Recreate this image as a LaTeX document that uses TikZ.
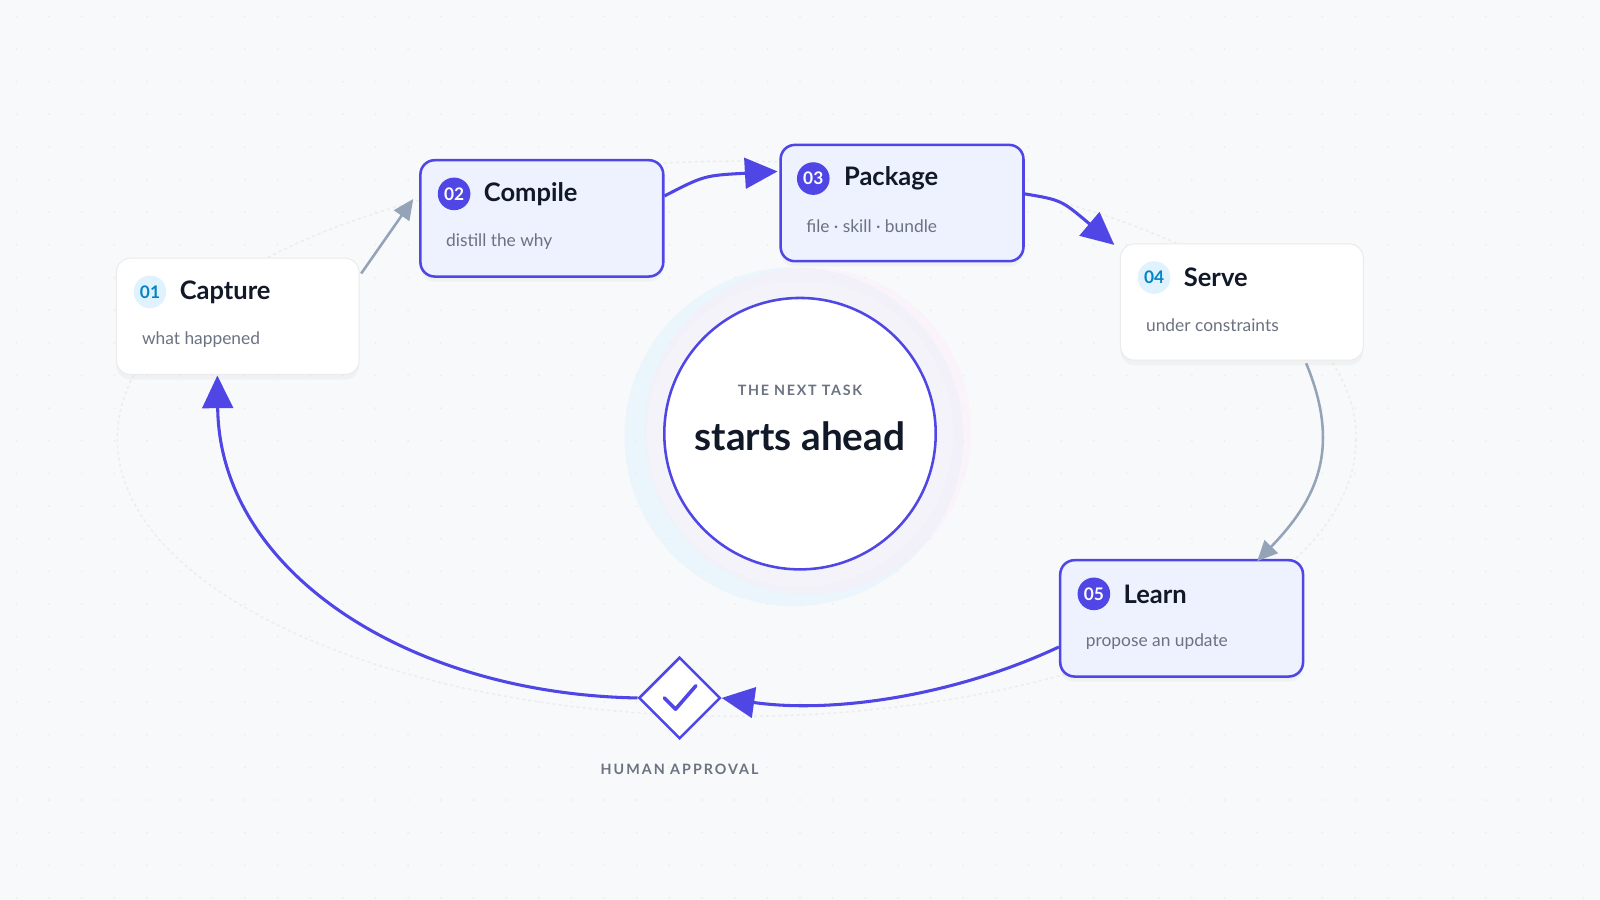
\documentclass[tikz,border=0pt]{standalone}
\usepackage{fontspec}
\setmainfont{Lato}
\usetikzlibrary{arrows.meta,shapes.geometric,shadows}
\definecolor{ind}{HTML}{4F46E5}
\definecolor{indbg}{HTML}{EEF2FF}
\definecolor{ink}{HTML}{111827}
\definecolor{sub}{HTML}{6B7280}
\definecolor{gr}{HTML}{94A3B8}
\definecolor{bg}{HTML}{F8F9FB}
\definecolor{skyb}{HTML}{E0F2FE}
\definecolor{skyt}{HTML}{0284C7}
\begin{document}
\begin{tikzpicture}[x=1pt,y=-1pt,
 box/.style={rounded corners=14pt,minimum width=238pt,minimum height=114pt,draw,drop shadow={opacity=0.06,shadow xshift=0pt,shadow yshift=-5pt}},
 wbox/.style={box,fill=white,draw=black!8,line width=1pt},
 ibox/.style={box,fill=indbg,draw=ind,line width=2.5pt},
 ibadge/.style={circle,fill=ind,text=white,minimum size=32pt,inner sep=0pt,font=\bfseries\fontsize{17}{17}\selectfont},
 wbadge/.style={circle,fill=skyb,text=skyt,minimum size=32pt,inner sep=0pt,font=\bfseries\fontsize{17}{17}\selectfont},
 ttl/.style={anchor=west,inner sep=0pt,text=ink,font=\bfseries\fontsize{25}{25}\selectfont},
 sbt/.style={anchor=west,inner sep=0pt,text=sub,font=\fontsize{17}{17}\selectfont},
 iarr/.style={draw=ind,line width=3pt,-{Triangle[length=32pt,width=30pt]}},
 garr/.style={draw=gr,line width=2.5pt,-{Triangle[length=20pt,width=18pt]}}]
\fill[bg] (0,0) rectangle (1568,882);
\useasboundingbox (0,0) rectangle (1568,882);
\foreach \i in {0,...,48}{\foreach \j in {0,...,27}{\fill[black!7] (\i*32+16,\j*32+16) circle (1pt);}}
\draw[black!7,dashed,line width=1.5pt] (722,430) ellipse [x radius=607,y radius=272];
% glow
\fill[skyb,opacity=0.5] (778,428) circle (166);
\fill[magenta!8,opacity=0.4] (792,422) circle (160);
\fill[bg,opacity=0.3] (784,425) circle (150);
\node[circle,fill=white,draw=ind,line width=2.5pt,minimum size=266pt] (c) at (784,425) {};
\node[text=sub,font=\bfseries\fontsize{14}{14}\selectfont\addfontfeatures{LetterSpace=12}] at (784,383) {THE NEXT TASK};
\node[text=ink,font=\bfseries\fontsize{38}{38}\selectfont] at (784,428) {starts ahead};
% boxes
\node[wbox] (n1) at (233,310) {};
\node[ibox] (n2) at (531,214) {};
\node[ibox] (n3) at (884,199) {};
\node[wbox] (n4) at (1217,296) {};
\node[ibox] (n5) at (1158,606) {};
\node[wbadge] at (147,286) {01}; \node[ttl] at (176,286) {Capture}; \node[sbt] at (139,333) {what happened};
\node[ibadge] at (445,190) {02}; \node[ttl] at (474,190) {Compile}; \node[sbt] at (437,237) {distill the why};
\node[ibadge] at (797,175) {03}; \node[ttl] at (827,175) {Package}; \node[sbt] at (790,222) {file · skill · bundle};
\node[wbadge] at (1131,272) {04}; \node[ttl] at (1160,272) {Serve}; \node[sbt] at (1123,319) {under constraints};
\node[ibadge] at (1072,582) {05}; \node[ttl] at (1101,582) {Learn}; \node[sbt] at (1064,629) {propose an update};
% diamond
\node[diamond,draw=ind,fill=white,line width=2.5pt,minimum size=80pt,inner sep=0pt] (d) at (666,684) {};
\draw[ind,line width=3.5pt,line cap=round,line join=round] (651,684) -- (662,695) -- (682,672);
\node[text=sub,font=\bfseries\fontsize{14}{14}\selectfont\addfontfeatures{LetterSpace=14}] at (666,754) {HUMAN APPROVAL};
% arrows
\coordinate (a1) at (354,268); \coordinate (b1) at (405,195);
\draw[garr] (a1) -- (b1);
\draw[iarr] (n2.east) ++(0,-22) .. controls (690,172) .. (762,168);
\draw[iarr] (n3.east) ++(0,-9) .. controls (1040,196) .. (1092,240);
\coordinate (s1) at (1280,356); \coordinate (s2) at (1232,550);
\draw[garr] (s1) .. controls (1315,440) and (1290,490) .. (s2);
\draw[iarr] (n5.west) ++(0,28) .. controls (940,680) and (820,700) .. (d.east);
\draw[iarr] (d.west) .. controls (400,680) and (215,560) .. (213,368);
\end{tikzpicture}
\end{document}
